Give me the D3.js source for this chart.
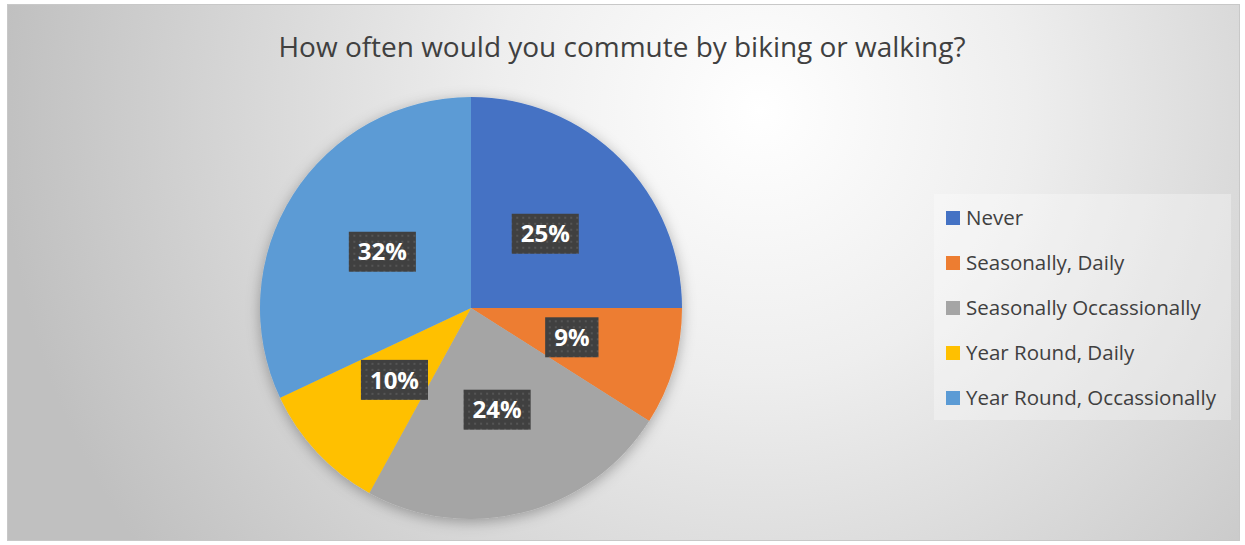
<!DOCTYPE html>
<html>
<head>
<meta charset="utf-8">
<script src="https://cdn.jsdelivr.net/npm/d3@7"></script>
<style>
  body { margin: 0; background: #fff; }
  svg text { font-family: "Open Sans", Lato, sans-serif; }
</style>
</head>
<body>
<div id="chart"></div>
<script>
const categories = ['Never', 'Seasonally, Daily', 'Seasonally Occassionally', 'Year Round, Daily', 'Year Round, Occassionally'];
const values = [25, 9, 24, 10, 32];
const colors = ['#4472C4', '#ED7D31', '#A5A5A5', '#FFC000', '#5B9BD5'];
const title = 'How often would you commute by biking or walking?';

const width = 1245, height = 545;
const center = { x: 471, y: 308 };
const radius = 211;

const svg = d3.select('#chart').append('svg')
  .attr('width', width)
  .attr('height', height);

const defs = svg.append('defs');

// chart background, light spot up near the title
const bg = defs.append('radialGradient')
  .attr('id', 'bg')
  .attr('gradientUnits', 'userSpaceOnUse')
  .attr('cx', 760).attr('cy', 110).attr('r', 760);
bg.append('stop').attr('offset', '0%').attr('stop-color', '#ffffff');
bg.append('stop').attr('offset', '35%').attr('stop-color', '#eeeeee');
bg.append('stop').attr('offset', '100%').attr('stop-color', '#c0c0c0');

const shadow = defs.append('filter')
  .attr('id', 'shadow')
  .attr('x', '-20%').attr('y', '-20%').attr('width', '140%').attr('height', '140%');
shadow.append('feDropShadow')
  .attr('dx', 0).attr('dy', 3)
  .attr('stdDeviation', 7)
  .attr('flood-color', '#000')
  .attr('flood-opacity', 0.3);

// dotted fill for the data label boxes
const pat = defs.append('pattern')
  .attr('id', 'dots')
  .attr('patternUnits', 'userSpaceOnUse')
  .attr('width', 6).attr('height', 6);
pat.append('rect').attr('width', 6).attr('height', 6).attr('fill', '#404040');
pat.append('rect').attr('x', 1).attr('y', 1).attr('width', 2).attr('height', 2).attr('fill', '#555555');

svg.append('rect')
  .attr('x', 7.5).attr('y', 4.5)
  .attr('width', 1232).attr('height', 536)
  .attr('fill', 'url(#bg)')
  .attr('stroke', '#c8c8c8');

svg.append('text')
  .attr('x', 622)
  .attr('y', 57)
  .attr('text-anchor', 'middle')
  .attr('font-size', 27)
  .attr('textLength', 687)
  .attr('lengthAdjust', 'spacingAndGlyphs')
  .attr('fill', '#404040')
  .text(title);

// pie
const pie = d3.pie().sort(null).value(function(d) { return d; });
const arcs = pie(values);
const arc = d3.arc().innerRadius(0).outerRadius(radius);
const labelArc = d3.arc().innerRadius(105).outerRadius(105);

const g = svg.append('g')
  .attr('transform', 'translate(' + center.x + ',' + center.y + ')');

g.append('g')
  .attr('filter', 'url(#shadow)')
  .selectAll('path')
  .data(arcs)
  .enter()
  .append('path')
    .attr('d', arc)
    .attr('fill', function(d, i) { return colors[i]; });

const total = d3.sum(values);
const labels = g.selectAll('.lbl')
  .data(arcs)
  .enter()
  .append('g')
    .attr('class', 'lbl')
    .attr('transform', function(d) {
      const c = labelArc.centroid(d);
      return 'translate(' + c[0] + ',' + c[1] + ')';
    });

labels.append('rect').attr('fill', 'url(#dots)');
labels.append('text')
  .attr('text-anchor', 'middle')
  .attr('dy', '0.36em')
  .attr('font-size', 24)
  .attr('font-weight', 'bold')
  .attr('fill', '#ffffff')
  .text(function(d) { return Math.round(d.value / total * 100) + '%'; });

labels.each(function() {
  const t = d3.select(this).select('text').node();
  const w = t.getComputedTextLength() + 18;
  d3.select(this).select('rect')
    .attr('x', -w / 2).attr('y', -20)
    .attr('width', w).attr('height', 40);
});

// legend
const legend = svg.append('g');
legend.append('rect')
  .attr('x', 934).attr('y', 194)
  .attr('width', 297).attr('height', 226)
  .attr('fill', '#ffffff')
  .attr('fill-opacity', 0.3);

const ly = d3.scalePoint()
  .domain(categories)
  .range([218, 398]);

const items = legend.selectAll('.item')
  .data(categories)
  .enter()
  .append('g')
    .attr('class', 'item')
    .attr('transform', function(d) { return 'translate(946,' + ly(d) + ')'; });

items.append('rect')
  .attr('x', 0).attr('y', -7)
  .attr('width', 14).attr('height', 14)
  .attr('fill', function(d, i) { return colors[i]; });

items.append('text')
  .attr('x', 20)
  .attr('dy', '0.35em')
  .attr('font-size', 20.5)
  .attr('fill', '#404040')
  .text(function(d) { return d; });
</script>
</body>
</html>
